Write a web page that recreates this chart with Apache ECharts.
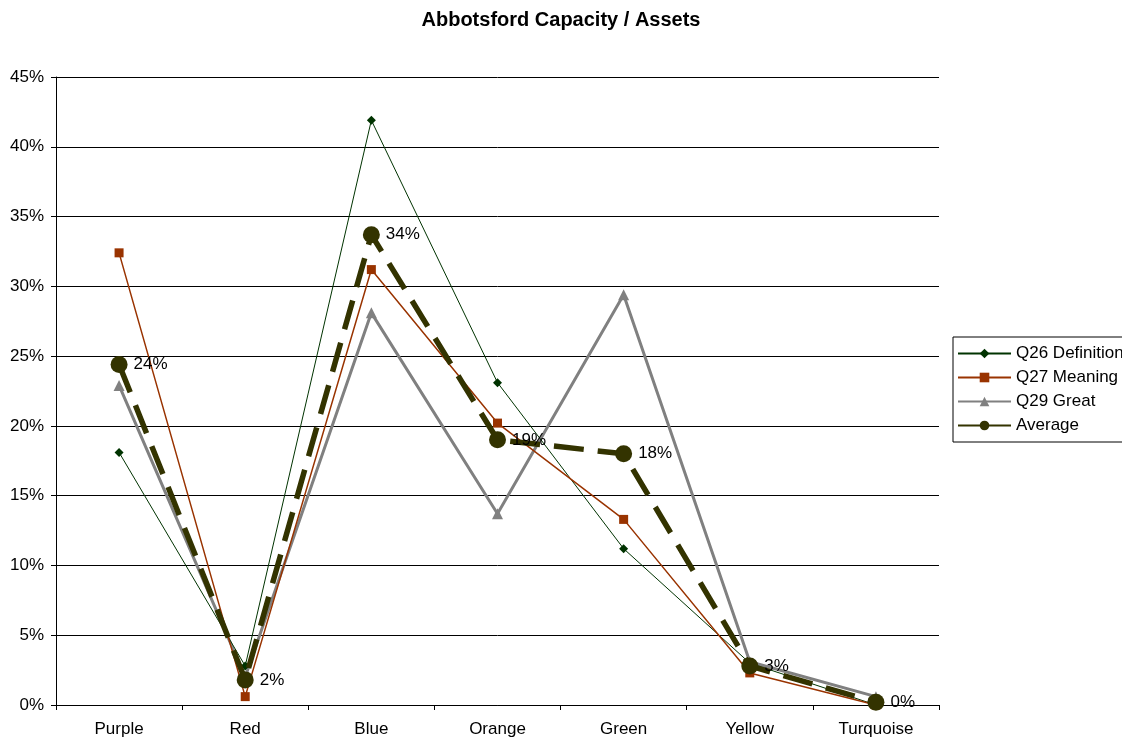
<!DOCTYPE html>
<html>
<head>
<meta charset="utf-8">
<script src="https://cdn.jsdelivr.net/npm/echarts@6/dist/echarts.min.js"></script>
<style>
  html, body { margin: 0; padding: 0; background: #fff; }
  #chart { width: 1122px; height: 738px; }
</style>
</head>
<body>
<div id="chart"></div>
<script>
// Colour groups along the x axis
const categories = ['Purple', 'Red', 'Blue', 'Orange', 'Green', 'Yellow', 'Turquoise'];

// Share of responses per colour, in percent
const q26Definition = [18.1, 2.8, 41.9, 23.1, 11.2, 3.0, 0.0];
const q27Meaning    = [32.4, 0.6, 31.2, 20.2, 13.3, 2.3, 0.0];
const q29Great      = [22.9, 2.0, 28.1, 13.7, 29.4, 3.1, 0.6];
const average       = [24.4, 1.8, 33.7, 19.0, 18.0, 2.8, 0.2];

// Value axis ticks
const yTicks = [0, 5, 10, 15, 20, 25, 30, 35, 40, 45];

const font = 'Arial, "Liberation Sans", sans-serif';

const chart = echarts.init(document.getElementById('chart'));
chart.setOption({
  animation: false,
  backgroundColor: '#fff',
  title: {
    text: 'Abbotsford Capacity / Assets',
    left: 'center',
    top: 5,
    textStyle: { fontFamily: font, fontSize: 20, fontWeight: 'bold', color: '#000' }
  },
  grid: { left: 56, right: 183, top: 77, bottom: 33 },
  legend: {
    orient: 'vertical',
    left: 953,
    top: 337,
    padding: [8, 8, 8, 4],
    itemGap: 7,
    itemWidth: 53,
    itemHeight: 12,
    borderColor: '#000',
    borderWidth: 1,
    textStyle: { fontFamily: font, fontSize: 17, color: '#000' },
    data: [
      { name: 'Q26 Definition' },
      { name: 'Q27 Meaning' },
      { name: 'Q29 Great' },
      { name: 'Average', lineStyle: { type: 'solid' } }
    ]
  },
  xAxis: {
    type: 'category',
    data: categories,
    boundaryGap: true,
    axisLine: { lineStyle: { color: '#000', width: 1 } },
    axisTick: { show: true, alignWithLabel: false, length: 5, lineStyle: { color: '#000' } },
    axisLabel: { fontFamily: font, fontSize: 17, color: '#000', margin: 16 }
  },
  yAxis: {
    type: 'value',
    min: yTicks[0],
    max: yTicks[yTicks.length - 1],
    interval: 5,
    axisLine: { show: true, lineStyle: { color: '#000', width: 1 } },
    axisTick: { show: true, length: 5, lineStyle: { color: '#000' } },
    axisLabel: { fontFamily: font, fontSize: 17, color: '#000', margin: 12, formatter: v => v + '%' },
    splitLine: { show: true, lineStyle: { color: '#000', width: 1 } }
  },
  series: [
    {
      name: 'Q26 Definition',
      type: 'line',
      data: q26Definition,
      color: '#003300',
      symbol: 'diamond',
      symbolSize: 9,
      lineStyle: { width: 1, color: '#003300' },
      itemStyle: { color: '#003300' },
      z: 3
    },
    {
      name: 'Q27 Meaning',
      type: 'line',
      data: q27Meaning,
      color: '#993300',
      symbol: 'rect',
      symbolSize: 9,
      lineStyle: { width: 1.5, color: '#993300' },
      itemStyle: { color: '#993300' },
      z: 3
    },
    {
      name: 'Q29 Great',
      type: 'line',
      data: q29Great,
      color: '#808080',
      symbol: 'triangle',
      symbolSize: 11,
      lineStyle: { width: 3, color: '#808080' },
      itemStyle: { color: '#808080' },
      z: 2
    },
    {
      name: 'Average',
      type: 'line',
      data: average,
      color: '#333300',
      symbol: 'circle',
      symbolSize: 17,
      lineStyle: { width: 5.5, color: '#333300', type: [30, 14], cap: 'butt' },
      itemStyle: { color: '#333300' },
      label: {
        show: true,
        position: 'right',
        distance: 6,
        fontFamily: font,
        fontSize: 17,
        color: '#000',
        formatter: p => Math.round(p.value) + '%'
      },
      z: 4
    }
  ]
});
</script>
</body>
</html>
